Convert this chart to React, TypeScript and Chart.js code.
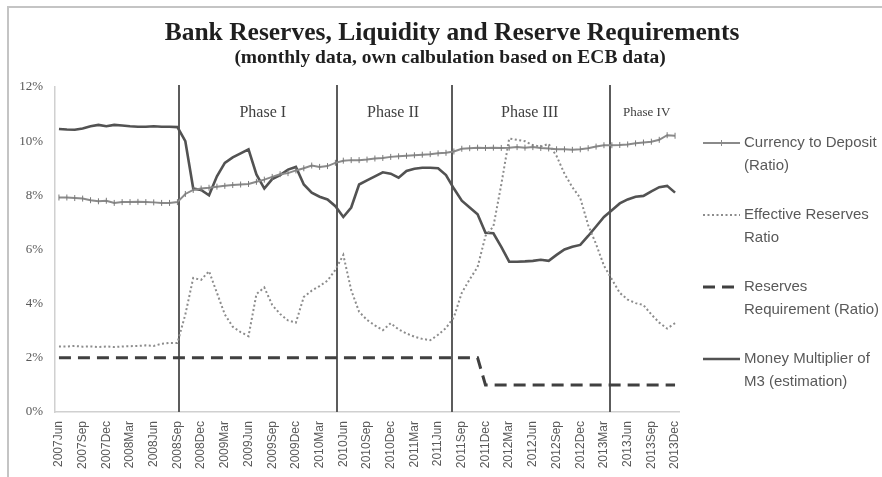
import { useEffect, useRef } from "react";
import { Chart, registerables } from "chart.js";

Chart.register(...registerables);

const categories = [
  "2007Jun", "2007Jul", "2007Aug", "2007Sep", "2007Oct", "2007Nov", "2007Dec",
  "2008Jan", "2008Feb", "2008Mar", "2008Apr", "2008May", "2008Jun", "2008Jul", "2008Aug", "2008Sep", "2008Oct", "2008Nov", "2008Dec",
  "2009Jan", "2009Feb", "2009Mar", "2009Apr", "2009May", "2009Jun", "2009Jul", "2009Aug", "2009Sep", "2009Oct", "2009Nov", "2009Dec",
  "2010Jan", "2010Feb", "2010Mar", "2010Apr", "2010May", "2010Jun", "2010Jul", "2010Aug", "2010Sep", "2010Oct", "2010Nov", "2010Dec",
  "2011Jan", "2011Feb", "2011Mar", "2011Apr", "2011May", "2011Jun", "2011Jul", "2011Aug", "2011Sep", "2011Oct", "2011Nov", "2011Dec",
  "2012Jan", "2012Feb", "2012Mar", "2012Apr", "2012May", "2012Jun", "2012Jul", "2012Aug", "2012Sep", "2012Oct", "2012Nov", "2012Dec",
  "2013Jan", "2013Feb", "2013Mar", "2013Apr", "2013May", "2013Jun", "2013Jul", "2013Aug", "2013Sep", "2013Oct", "2013Nov", "2013Dec",
];

const tickLabels = [
  "2007Jun", "2007Sep", "2007Dec", "2008Mar", "2008Jun", "2008Sep", "2008Dec",
  "2009Mar", "2009Jun", "2009Sep", "2009Dec", "2010Mar", "2010Jun", "2010Sep",
  "2010Dec", "2011Mar", "2011Jun", "2011Sep", "2011Dec", "2012Mar", "2012Jun",
  "2012Sep", "2012Dec", "2013Mar", "2013Jun", "2013Sep", "2013Dec",
];

const yTicks = [0, 2, 4, 6, 8, 10, 12];

const currencyToDeposit = [
  7.92, 7.92, 7.9, 7.88, 7.82, 7.78, 7.8, 7.72, 7.75, 7.75,
  7.76, 7.75, 7.74, 7.72, 7.72, 7.75, 8.05, 8.2, 8.25, 8.28,
  8.32, 8.35, 8.38, 8.4, 8.42, 8.5, 8.58, 8.68, 8.78, 8.82,
  8.92, 9.0, 9.1, 9.05, 9.08, 9.2, 9.28, 9.3, 9.3, 9.32,
  9.36, 9.38, 9.42, 9.44, 9.46, 9.48, 9.5, 9.52, 9.55, 9.57,
  9.62, 9.72, 9.74, 9.76, 9.75, 9.76, 9.75, 9.76, 9.78, 9.76,
  9.78, 9.75, 9.73, 9.7, 9.7, 9.68, 9.7, 9.74, 9.8, 9.85,
  9.85, 9.86, 9.88, 9.92, 9.95, 9.98, 10.05, 10.22, 10.2,
];

const effectiveReserves = [
  2.42, 2.42, 2.44, 2.41, 2.42, 2.4, 2.42, 2.4, 2.42, 2.43,
  2.44, 2.46, 2.44, 2.52, 2.55, 2.55, 3.6, 4.95, 4.88, 5.2,
  4.4, 3.6, 3.15, 2.95, 2.8, 4.35, 4.6, 3.95, 3.62, 3.38,
  3.3, 4.25, 4.48, 4.65, 4.85, 5.25, 5.8, 4.5, 3.7, 3.4,
  3.2, 3.02, 3.28, 3.05, 2.9, 2.78, 2.7, 2.65, 2.85, 3.1,
  3.5, 4.4, 4.9, 5.35, 6.5, 6.85, 8.4, 10.1, 10.05, 10.0,
  9.85, 9.8, 9.9, 9.45, 8.8, 8.3, 7.9, 6.9, 6.2, 5.4,
  4.9, 4.4, 4.15, 4.02, 3.95, 3.6, 3.3, 3.08, 3.28,
];

const reservesRequirement = [
  2, 2, 2, 2, 2, 2, 2, 2, 2, 2,
  2, 2, 2, 2, 2, 2, 2, 2, 2, 2,
  2, 2, 2, 2, 2, 2, 2, 2, 2, 2,
  2, 2, 2, 2, 2, 2, 2, 2, 2, 2,
  2, 2, 2, 2, 2, 2, 2, 2, 2, 2,
  2, 2, 2, 2, 1, 1, 1, 1, 1, 1,
  1, 1, 1, 1, 1, 1, 1, 1, 1, 1,
  1, 1, 1, 1, 1, 1, 1, 1, 1,
];

const moneyMultiplier = [
  10.45, 10.43, 10.42, 10.47, 10.55, 10.6, 10.55, 10.6, 10.58, 10.55,
  10.53, 10.53, 10.55, 10.53, 10.53, 10.52, 10.0, 8.25, 8.2, 8.0,
  8.7, 9.2, 9.4, 9.55, 9.7, 8.77, 8.25, 8.6, 8.75, 8.95,
  9.05, 8.4, 8.1, 7.95, 7.85, 7.6, 7.2, 7.55, 8.4, 8.55,
  8.7, 8.85, 8.8, 8.65, 8.9, 8.98, 9.02, 9.02, 9.0, 8.75,
  8.25, 7.8, 7.55, 7.3, 6.62, 6.6, 6.1, 5.55, 5.55, 5.56,
  5.58, 5.62, 5.58, 5.8, 6.0, 6.1, 6.17, 6.5, 6.85, 7.2,
  7.45, 7.7, 7.85, 7.95, 7.98, 8.15, 8.3, 8.35, 8.1,
];

const seriesLabels = [
  "Currency to Deposit\n(Ratio)",
  "Effective Reserves\nRatio",
  "Reserves\nRequirement (Ratio)",
  "Money Multiplier of\nM3 (estimation)",
];

const phaseNames = ["Phase I", "Phase II", "Phase III", "Phase IV"];
// boundaries between phases, in months counted from 2007Jun
const phaseBoundaries = [15.2, 35.2, 49.8, 69.8];
const phaseLabelAt = [25.8, 42.3, 59.6, 74.4];

const titleText = "Bank Reserves, Liquidity and Reserve Requirements";
const subtitleText = "(monthly data, own calbulation based on ECB data)";

export default function App() {
  const ref = useRef<HTMLCanvasElement>(null);

  useEffect(() => {
    document.body.style.margin = "0";
    document.body.style.overflow = "hidden";
    const canvas = ref.current;
    if (!canvas) return;

    const styles = [
      { color: "#8a8a8a", width: 2, dash: [] as number[], marker: true },
      { color: "#8c8c8c", width: 2, dash: [2, 2.5], marker: false },
      { color: "#404040", width: 3, dash: [12, 7], marker: false },
      { color: "#525252", width: 2.6, dash: [] as number[], marker: false },
    ];

    const decor = {
      id: "decor",
      beforeDatasetsDraw(chart: any) {
        const { ctx, chartArea, scales } = chart;
        const xs = scales.x;
        const x0 = xs.getPixelForValue(0);
        const step = xs.getPixelForValue(1) - x0;
        ctx.save();
        ctx.strokeStyle = "#5c5c5c";
        ctx.lineWidth = 2;
        phaseBoundaries.forEach((b) => {
          const px = Math.round(x0 + b * step);
          ctx.beginPath();
          ctx.moveTo(px, chartArea.top - 2);
          ctx.lineTo(px, chartArea.bottom);
          ctx.stroke();
        });
        ctx.fillStyle = "#404040";
        ctx.textAlign = "center";
        ctx.textBaseline = "middle";
        phaseNames.forEach((n, i) => {
          ctx.font = i === 3 ? '13px "Liberation Serif"' : '16px "Liberation Serif"';
          ctx.fillText(n, x0 + phaseLabelAt[i] * step, 113);
        });
        ctx.restore();
      },
      afterDraw(chart: any) {
        const { ctx } = chart;
        ctx.save();
        ctx.fillStyle = "#1f1f1f";
        ctx.textAlign = "center";
        ctx.textBaseline = "middle";
        ctx.font = 'bold 25.5px "Liberation Serif"';
        ctx.fillText(titleText, 452, 33);
        ctx.font = 'bold 19.5px "Liberation Serif"';
        ctx.fillText(subtitleText, 450, 58);

        // legend
        ctx.textAlign = "left";
        seriesLabels.forEach((label, i) => {
          const s = styles[i];
          const y = 143 + i * 72;
          ctx.strokeStyle = s.color;
          ctx.lineWidth = s.width;
          ctx.setLineDash(s.dash);
          ctx.beginPath();
          ctx.moveTo(703, y);
          ctx.lineTo(740, y);
          ctx.stroke();
          ctx.setLineDash([]);
          if (s.marker) {
            ctx.lineWidth = 1;
            ctx.beginPath();
            ctx.moveTo(721.5, y - 3);
            ctx.lineTo(721.5, y + 3);
            ctx.stroke();
          }
          ctx.fillStyle = "#595959";
          ctx.font = '15px "Liberation Sans"';
          label.split("\n").forEach((line, j) => {
            ctx.fillText(line, 744, y + j * 23);
          });
        });
        ctx.restore();
      },
    };

    const chart = new Chart(canvas, {
      type: "line",
      data: {
        labels: categories,
        datasets: [
          {
            label: seriesLabels[0],
            data: currencyToDeposit,
            borderColor: styles[0].color,
            borderWidth: styles[0].width,
            pointStyle: "line",
            rotation: 90,
            pointRadius: 3,
            pointBorderWidth: 1,
            pointBorderColor: "#7a7a7a",
            tension: 0,
          },
          {
            label: seriesLabels[1],
            data: effectiveReserves,
            borderColor: styles[1].color,
            borderWidth: styles[1].width,
            borderDash: styles[1].dash,
            pointRadius: 0,
            tension: 0,
          },
          {
            label: seriesLabels[2],
            data: reservesRequirement,
            borderColor: styles[2].color,
            borderWidth: styles[2].width,
            borderDash: styles[2].dash,
            pointRadius: 0,
            tension: 0,
          },
          {
            label: seriesLabels[3],
            data: moneyMultiplier,
            borderColor: styles[3].color,
            borderWidth: styles[3].width,
            pointRadius: 0,
            tension: 0,
          },
        ],
      },
      options: {
        animation: false,
        responsive: false,
        devicePixelRatio: 1,
        layout: { padding: { top: 87, right: 203, left: 0, bottom: 0 } },
        plugins: {
          legend: { display: false },
          title: { display: false },
          tooltip: { enabled: false },
        },
        scales: {
          x: {
            type: "category",
            offset: true,
            grid: { display: false, drawTicks: false },
            border: { display: true, color: "#d0d0d0", width: 1.5 },
            afterFit: (scale: any) => {
              scale.height = 65;
            },
            ticks: {
              autoSkip: false,
              maxRotation: 90,
              minRotation: 90,
              padding: 9,
              color: "#595959",
              font: { family: "Liberation Sans", size: 12 },
              callback: (_v: any, idx: number) =>
                tickLabels.includes(categories[idx]) ? categories[idx] : "",
            },
          },
          y: {
            min: yTicks[0],
            max: yTicks[yTicks.length - 1],
            grid: { display: false, drawTicks: false },
            border: { display: true, color: "#d0d0d0", width: 1.5 },
            afterFit: (scale: any) => {
              scale.width = 55;
            },
            afterBuildTicks: (scale: any) => {
              scale.ticks = yTicks.map((v) => ({ value: v }));
            },
            ticks: {
              padding: 12,
              color: "#595959",
              font: { family: "Liberation Serif", size: 13 },
              callback: (v: any) => `${v}%`,
            },
          },
        },
      },
      plugins: [decor],
    });

    return () => chart.destroy();
  }, []);

  return (
    <div style={{ position: "relative", width: 882, height: 477, overflow: "hidden", background: "#fff" }}>
      <div
        style={{
          position: "absolute",
          left: 7,
          top: 6,
          width: 920,
          height: 520,
          border: "2px solid #c4c4c4",
        }}
      />
      <canvas ref={ref} width={882} height={477} style={{ position: "absolute", left: 0, top: 0, width: 882, height: 477 }} />
    </div>
  );
}
